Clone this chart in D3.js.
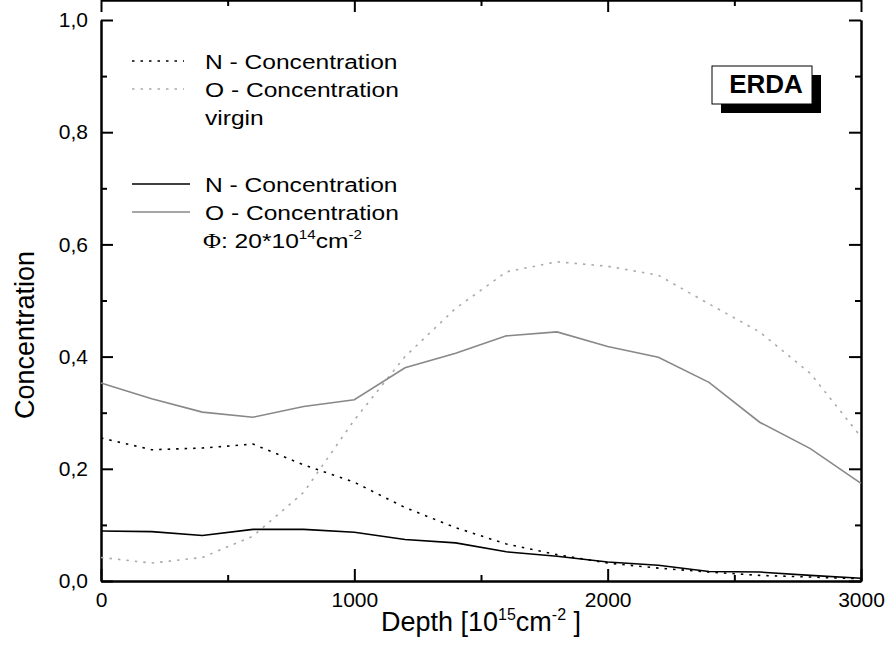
<!DOCTYPE html>
<html>
<head>
<meta charset="utf-8">
<script src="https://cdn.jsdelivr.net/npm/d3@7"></script>
<style>
  body { margin: 0; background: #fff; }
  svg { display: block; font-family: "Liberation Sans", Arial, sans-serif; }
</style>
</head>
<body>
<div id="chart"></div>
<script>
// depth in 10^15 cm^-2
var depth = [0, 200, 400, 600, 800, 1000, 1200, 1400, 1600, 1800, 2000, 2200, 2400, 2600, 2800, 3000];
// virgin sample
var nVirgin = [0.255, 0.234, 0.237, 0.244, 0.207, 0.176, 0.131, 0.095, 0.066, 0.047, 0.032, 0.023, 0.016, 0.010, 0.007, 0.004];
var oVirgin = [0.042, 0.032, 0.042, 0.080, 0.158, 0.287, 0.400, 0.486, 0.551, 0.569, 0.561, 0.545, 0.494, 0.444, 0.370, 0.257];
// fluence 20*10^14 cm^-2
var nFluence = [0.089, 0.088, 0.081, 0.092, 0.092, 0.087, 0.074, 0.068, 0.052, 0.044, 0.034, 0.028, 0.017, 0.016, 0.010, 0.005];
var oFluence = [0.353, 0.325, 0.301, 0.292, 0.311, 0.323, 0.380, 0.406, 0.437, 0.444, 0.418, 0.399, 0.354, 0.283, 0.236, 0.174];

var xMajor = [0, 1000, 2000, 3000];
var xMinor = [500, 1500, 2500];
var yMajor = [0, 0.2, 0.4, 0.6, 0.8, 1.0];
var yMinor = [0.1, 0.3, 0.5, 0.7, 0.9];

var width = 890, height = 659;
var margin = { top: 20, right: 29, bottom: 78, left: 101 };

var svg = d3.select('#chart').append('svg')
    .attr('width', width)
    .attr('height', height);

var x = d3.scaleLinear().domain([0, 3000]).range([margin.left, width - margin.right]);
var y = d3.scaleLinear().domain([0, 1]).range([height - margin.bottom, margin.top]);

var commaFmt = function (d) { return d3.format('.1f')(d).replace('.', ','); };

// axes, ticks point inwards on all four sides
function styleAxis(g) {
    g.selectAll('.domain').attr('stroke', '#000').attr('stroke-width', 2);
    g.selectAll('.tick line').attr('stroke', '#000').attr('stroke-width', 2);
    g.selectAll('.tick text').attr('fill', '#000').style('font-size', '21px')
        .style('font-family', '"Liberation Sans", Arial, sans-serif');
}

var bottom = y(0), top = y(1), left = x(0), right = x(3000);

svg.append('g').attr('transform', 'translate(0,' + bottom + ')')
    .call(d3.axisBottom(x).tickValues(xMinor).tickSize(-6).tickSizeOuter(0).tickFormat(''))
    .call(styleAxis);
svg.append('g').attr('transform', 'translate(0,' + bottom + ')')
    .call(d3.axisBottom(x).tickValues(xMajor).tickSize(-12).tickSizeOuter(0).tickPadding(11).tickFormat(d3.format('d')))
    .call(styleAxis);
svg.append('g').attr('transform', 'translate(0,' + top + ')')
    .call(d3.axisTop(x).tickValues(xMinor).tickSize(-6).tickSizeOuter(0).tickFormat(''))
    .call(styleAxis);
svg.append('g').attr('transform', 'translate(0,' + top + ')')
    .call(d3.axisTop(x).tickValues(xMajor).tickSize(-12).tickSizeOuter(0).tickFormat(''))
    .call(styleAxis);

svg.append('g').attr('transform', 'translate(' + left + ',0)')
    .call(d3.axisLeft(y).tickValues(yMinor).tickSize(-6).tickSizeOuter(0).tickFormat(''))
    .call(styleAxis);
svg.append('g').attr('transform', 'translate(' + left + ',0)')
    .call(d3.axisLeft(y).tickValues(yMajor).tickSize(-12).tickSizeOuter(0).tickPadding(13).tickFormat(commaFmt))
    .call(styleAxis);
svg.append('g').attr('transform', 'translate(' + right + ',0)')
    .call(d3.axisRight(y).tickValues(yMinor).tickSize(-6).tickSizeOuter(0).tickFormat(''))
    .call(styleAxis);
svg.append('g').attr('transform', 'translate(' + right + ',0)')
    .call(d3.axisRight(y).tickValues(yMajor).tickSize(-12).tickSizeOuter(0).tickFormat(''))
    .call(styleAxis);

// series
var series = [
    { values: oVirgin, color: '#aaa', dash: '2.5,6' },
    { values: nVirgin, color: '#000', dash: '2.5,6' },
    { values: oFluence, color: '#888', dash: null },
    { values: nFluence, color: '#000', dash: null }
];

var line = d3.line()
    .x(function (d, i) { return x(depth[i]); })
    .y(function (d) { return y(d); });

svg.append('g').selectAll('path.series')
    .data(series)
    .enter().append('path')
    .attr('class', 'series')
    .attr('d', function (d) { return line(d.values); })
    .attr('fill', 'none')
    .attr('stroke', function (d) { return d.color; })
    .attr('stroke-width', 1.6)
    .attr('stroke-dasharray', function (d) { return d.dash; });

// legend
var legend = svg.append('g');
var legendRows = [
    { cy: 61, text: 'N - Concentration', color: '#000', dash: '2.5,6' },
    { cy: 89, text: 'O - Concentration', color: '#aaa', dash: '2.5,6' },
    { cy: 117, text: 'virgin' },
    { cy: 184, text: 'N - Concentration', color: '#000', dash: null },
    { cy: 212, text: 'O - Concentration', color: '#888', dash: null }
];
legendRows.forEach(function (r) {
    if (r.color) {
        legend.append('line')
            .attr('x1', 132).attr('x2', r.dash ? 184 : 190)
            .attr('y1', r.cy).attr('y2', r.cy)
            .attr('stroke', r.color).attr('stroke-width', 1.6)
            .attr('stroke-dasharray', r.dash);
    }
    legend.append('text')
        .attr('transform', 'translate(205,' + (r.cy + 7.5) + ') scale(1.17,1)')
        .style('font-size', '21px')
        .text(r.text);
});
var phi = legend.append('text')
    .attr('transform', 'translate(203,247.5) scale(1.17,1)')
    .style('font-size', '21px');
phi.append('tspan').style('font-family', '"Liberation Serif", "Times New Roman", serif').text('\u03A6');
phi.append('tspan').text(': 20*10');
phi.append('tspan').attr('dy', -9).style('font-size', '13px').text('14');
phi.append('tspan').attr('dy', 9).text('cm');
phi.append('tspan').attr('dy', -9).style('font-size', '13px').text('-2');

// ERDA label box with drop shadow
var box = { x: 712, y: 66, w: 100, h: 38, off: 9 };
svg.append('rect')
    .attr('x', box.x + box.off).attr('y', box.y + box.off)
    .attr('width', box.w).attr('height', box.h)
    .attr('fill', '#000');
svg.append('rect')
    .attr('x', box.x).attr('y', box.y)
    .attr('width', box.w).attr('height', box.h)
    .attr('fill', '#fff').attr('stroke', '#000').attr('stroke-width', 1);
svg.append('text')
    .attr('x', box.x + box.w / 2 + 4).attr('y', box.y + 27)
    .attr('text-anchor', 'middle')
    .style('font-size', '26px').style('font-weight', 'bold')
    .text('ERDA');

// axis titles
var xt = svg.append('text')
    .attr('x', (left + right) / 2).attr('y', 631)
    .attr('text-anchor', 'middle')
    .style('font-size', '27px');
xt.append('tspan').text('Depth [10');
xt.append('tspan').attr('dy', -11).style('font-size', '16px').text('15');
xt.append('tspan').attr('dy', 11).text('cm');
xt.append('tspan').attr('dy', -11).style('font-size', '16px').text('-2');
xt.append('tspan').attr('dy', 11).text(' ]');

svg.append('text')
    .attr('transform', 'translate(34,' + 335 + ') rotate(-90)')
    .attr('text-anchor', 'middle')
    .style('font-size', '27px')
    .text('Concentration');
</script>
</body>
</html>
